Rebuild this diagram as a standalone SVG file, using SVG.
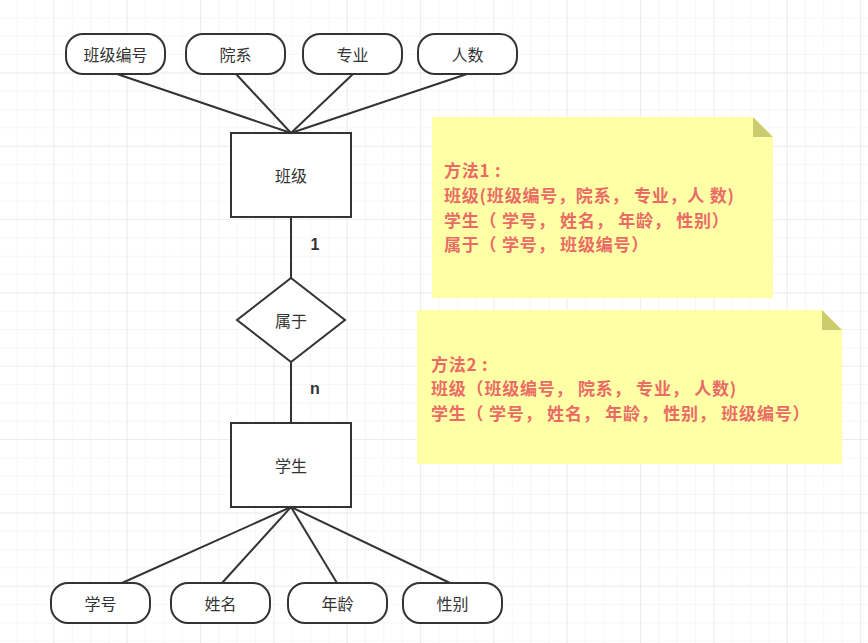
<svg xmlns="http://www.w3.org/2000/svg" width="868" height="643" viewBox="0 0 868 643">
<defs>
<pattern id="minor" patternUnits="userSpaceOnUse" x="16.7" y="17.4" width="18.333" height="18.333">
<path d="M0 0H18.333M0 0V18.333" fill="none" stroke="#f0f0f0" stroke-width="1"/>
</pattern>
<pattern id="major" patternUnits="userSpaceOnUse" x="53.4" y="-0.9" width="73.333" height="73.333">
<path d="M0 0H73.333M0 0V73.333" fill="none" stroke="#e2e2e2" stroke-width="1"/>
</pattern>
<style>
.ent{fill:#fff;stroke:#333;stroke-width:2}
.attr{fill:#fff;stroke:#333;stroke-width:2}
.lbl{font-family:"Noto Sans CJK SC","Noto Sans",sans-serif;font-size:16px;fill:#333;text-anchor:middle;dominant-baseline:central}
.card{font-family:"Liberation Sans",Arial,sans-serif;font-size:16px;font-weight:bold;fill:#333;text-anchor:middle;dominant-baseline:central}
.conn{stroke:#333;stroke-width:2;fill:none}
.note{fill:#ffffa6}
.fold{fill:#cccc6e}
.nt{font-family:"Noto Sans CJK SC","Noto Sans",sans-serif;font-size:17px;letter-spacing:0.8px;font-weight:bold;fill:#ea6b66}
</style>
</defs>
<rect width="868" height="643" fill="#fff"/>
<rect width="868" height="643" fill="url(#minor)"/>
<rect width="868" height="643" fill="url(#major)"/>

<g id="connectors">
<line class="conn" x1="117" y1="74" x2="291" y2="133"/>
<line class="conn" x1="236" y1="74" x2="291" y2="133"/>
<line class="conn" x1="353" y1="74" x2="291" y2="133"/>
<line class="conn" x1="467" y1="74" x2="291" y2="133"/>
<line class="conn" x1="291" y1="217" x2="291" y2="278"/>
<line class="conn" x1="291" y1="362" x2="291" y2="423"/>
<line class="conn" x1="291" y1="507" x2="122" y2="583"/>
<line class="conn" x1="291" y1="507" x2="222" y2="583"/>
<line class="conn" x1="291" y1="507" x2="337" y2="583"/>
<line class="conn" x1="291" y1="507" x2="450" y2="583"/>
<text class="card" x="315" y="244">1</text>
<text class="card" x="315" y="388">n</text>
</g>

<g id="attr-bjbh"><rect class="attr" x="66" y="34" width="99" height="40" rx="17"/><text class="lbl" x="115.5" y="54">班级编号</text></g>
<g id="attr-yx"><rect class="attr" x="186" y="34" width="99" height="40" rx="17"/><text class="lbl" x="235.5" y="54">院系</text></g>
<g id="attr-zy"><rect class="attr" x="303" y="34" width="99" height="40" rx="17"/><text class="lbl" x="352.5" y="54">专业</text></g>
<g id="attr-rs"><rect class="attr" x="418" y="34" width="99" height="40" rx="17"/><text class="lbl" x="467.5" y="54">人数</text></g>

<g id="ent-bj"><rect class="ent" x="231" y="133" width="120" height="84"/><text class="lbl" x="291" y="175">班级</text></g>
<g id="rel-sy"><polygon class="ent" points="291,278 345,320 291,362 237,320"/><text class="lbl" x="291" y="320">属于</text></g>
<g id="ent-xs"><rect class="ent" x="231" y="423" width="120" height="84"/><text class="lbl" x="291" y="465">学生</text></g>

<g id="attr-xh"><rect class="attr" x="51" y="583" width="99" height="40" rx="17"/><text class="lbl" x="100.5" y="603">学号</text></g>
<g id="attr-xm"><rect class="attr" x="171" y="583" width="99" height="40" rx="17"/><text class="lbl" x="220.5" y="603">姓名</text></g>
<g id="attr-nl"><rect class="attr" x="288" y="583" width="99" height="40" rx="17"/><text class="lbl" x="337.5" y="603">年龄</text></g>
<g id="attr-xb"><rect class="attr" x="403" y="583" width="99" height="40" rx="17"/><text class="lbl" x="452.5" y="603">性别</text></g>

<g id="note1">
<polygon class="note" points="432,117 753,117 773,137 773,298 432,298"/>
<polygon class="fold" points="753,117 773,137 753,137"/>
<text class="nt" x="444" y="177.3"><tspan x="444">方法1 :</tspan><tspan x="444" dy="24.6">班级(班级编号，院系， 专业，人 数)</tspan><tspan x="444" dy="24.6">学生（ 学号， 姓名， 年龄， 性别）</tspan><tspan x="444" dy="24.6">属于（ 学号， 班级编号）</tspan></text>
</g>

<g id="note2">
<polygon class="note" points="417,310 822,310 842,330 842,464 417,464"/>
<polygon class="fold" points="822,310 842,330 822,330"/>
<text class="nt" x="431" y="370.6"><tspan x="431">方法2 :</tspan><tspan x="431" dy="24.6">班级（班级编号， 院系， 专业， 人数)</tspan><tspan x="431" dy="24.6">学生（ 学号， 姓名， 年龄， 性别， 班级编号）</tspan></text>
</g>
</svg>
